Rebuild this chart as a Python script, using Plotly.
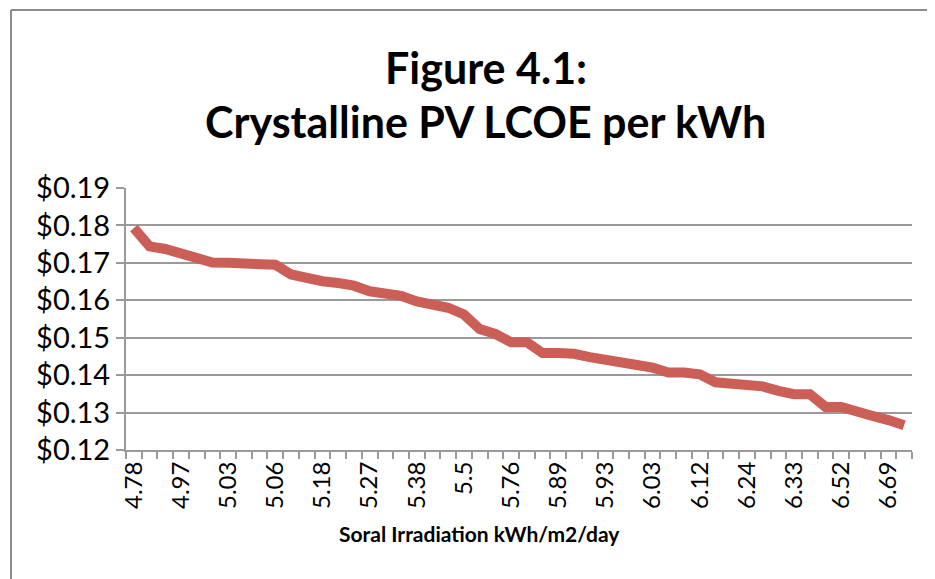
import plotly.graph_objects as go

# ---- data ----
tick_labels = ["4.78", "4.97", "5.03", "5.06", "5.18", "5.27", "5.38", "5.5", "5.76",
               "5.89", "5.93", "6.03", "6.12", "6.24", "6.33", "6.52", "6.69"]
lcoe = [0.1793, 0.1744, 0.1737, 0.1724, 0.1715, 0.1701, 0.1700, 0.1700, 0.1700, 0.1695,
        0.1669, 0.1657, 0.1651, 0.1646, 0.1639, 0.1624, 0.1618, 0.1612, 0.1597, 0.1587,
        0.1580, 0.1562, 0.1523, 0.1510, 0.1488, 0.1488, 0.1459, 0.1459, 0.1457, 0.1448,
        0.1443, 0.1436, 0.1427, 0.1420, 0.1407, 0.1407, 0.1402, 0.1381, 0.1378, 0.1370,
        0.1370, 0.1358, 0.1349, 0.1349, 0.1315, 0.1315, 0.1300, 0.1291, 0.1280, 0.1266]
label_step = 3

title_line1 = "Figure 4.1:"
title_line2 = "Crystalline PV LCOE per kWh"
x_title = "Soral Irradiation kWh/m2/day"

n = len(lcoe)
x_idx = list(range(n))
tickvals = list(range(0, n, label_step))[:len(tick_labels)]

FONT = "Lato"
GRID = "#9a9a9a"

fig = go.Figure()
fig.add_trace(go.Scatter(
    x=x_idx, y=lcoe, mode="lines",
    line=dict(color="#CB5F58", width=10),
    hoverinfo="skip", showlegend=False,
))

W, H = 935, 579
OFF = 8  # page offset of the figure inside the window
L, R, T, B = 126 - OFF, 912 - OFF, 188 - OFF, 450 - OFF

def px_x(px):
    return (px - OFF - L) / (R - L)

def px_y(py):
    return (B - (py - OFF)) / (B - T)

fig.update_layout(
    width=W, height=H,
    margin=dict(l=L, r=W - R, t=T, b=H - B),
    paper_bgcolor="white", plot_bgcolor="white",
    font=dict(family=FONT, color="#000000"),
    xaxis=dict(
        range=[-0.5, n - 0.5],
        tickmode="array", tickvals=tickvals, ticktext=tick_labels,
        tickangle=-90, ticks="", showgrid=False, zeroline=False,
        showline=True, linecolor=GRID, linewidth=2,
        tickfont=dict(size=24, family=FONT),
        minor=dict(tickmode="array", tickvals=[i - 0.5 for i in range(n + 1)],
                   ticks="outside", ticklen=7, tickwidth=2, tickcolor=GRID, showgrid=False),
    ),
    yaxis=dict(
        range=[0.12, 0.19], dtick=0.01, tick0=0.12, tickformat="$.2f",
        showgrid=True, gridcolor=GRID, gridwidth=2, zeroline=False,
        showline=True, linecolor=GRID, linewidth=2,
        ticks="outside", ticklen=8, tickwidth=2, tickcolor=GRID,
        tickfont=dict(size=29, family=FONT),
    ),
    annotations=[
        dict(text="<b>" + title_line1 + "</b>", xref="paper", yref="paper",
             x=px_x(485.5), y=px_y(68), xanchor="center", yanchor="middle",
             showarrow=False, font=dict(size=43, family=FONT)),
        dict(text="<b>" + title_line2 + "</b>", xref="paper", yref="paper",
             x=px_x(485.5), y=px_y(122), xanchor="center", yanchor="middle",
             showarrow=False, font=dict(size=43, family=FONT)),
        dict(text="<b>" + x_title + "</b>", xref="paper", yref="paper",
             x=px_x(479.5), y=px_y(533), xanchor="center", yanchor="middle",
             showarrow=False, font=dict(size=21, family=FONT)),
    ],
    shapes=[
        dict(type="line", xref="paper", yref="paper",
             x0=px_x(11), x1=px_x(11), y0=px_y(10), y1=px_y(600),
             line=dict(color="#8c8c8c", width=2)),
        dict(type="line", xref="paper", yref="paper",
             x0=px_x(11), x1=px_x(945), y0=px_y(10), y1=px_y(10),
             line=dict(color="#8c8c8c", width=2)),
    ],
)

fig.write_html("out.html")
